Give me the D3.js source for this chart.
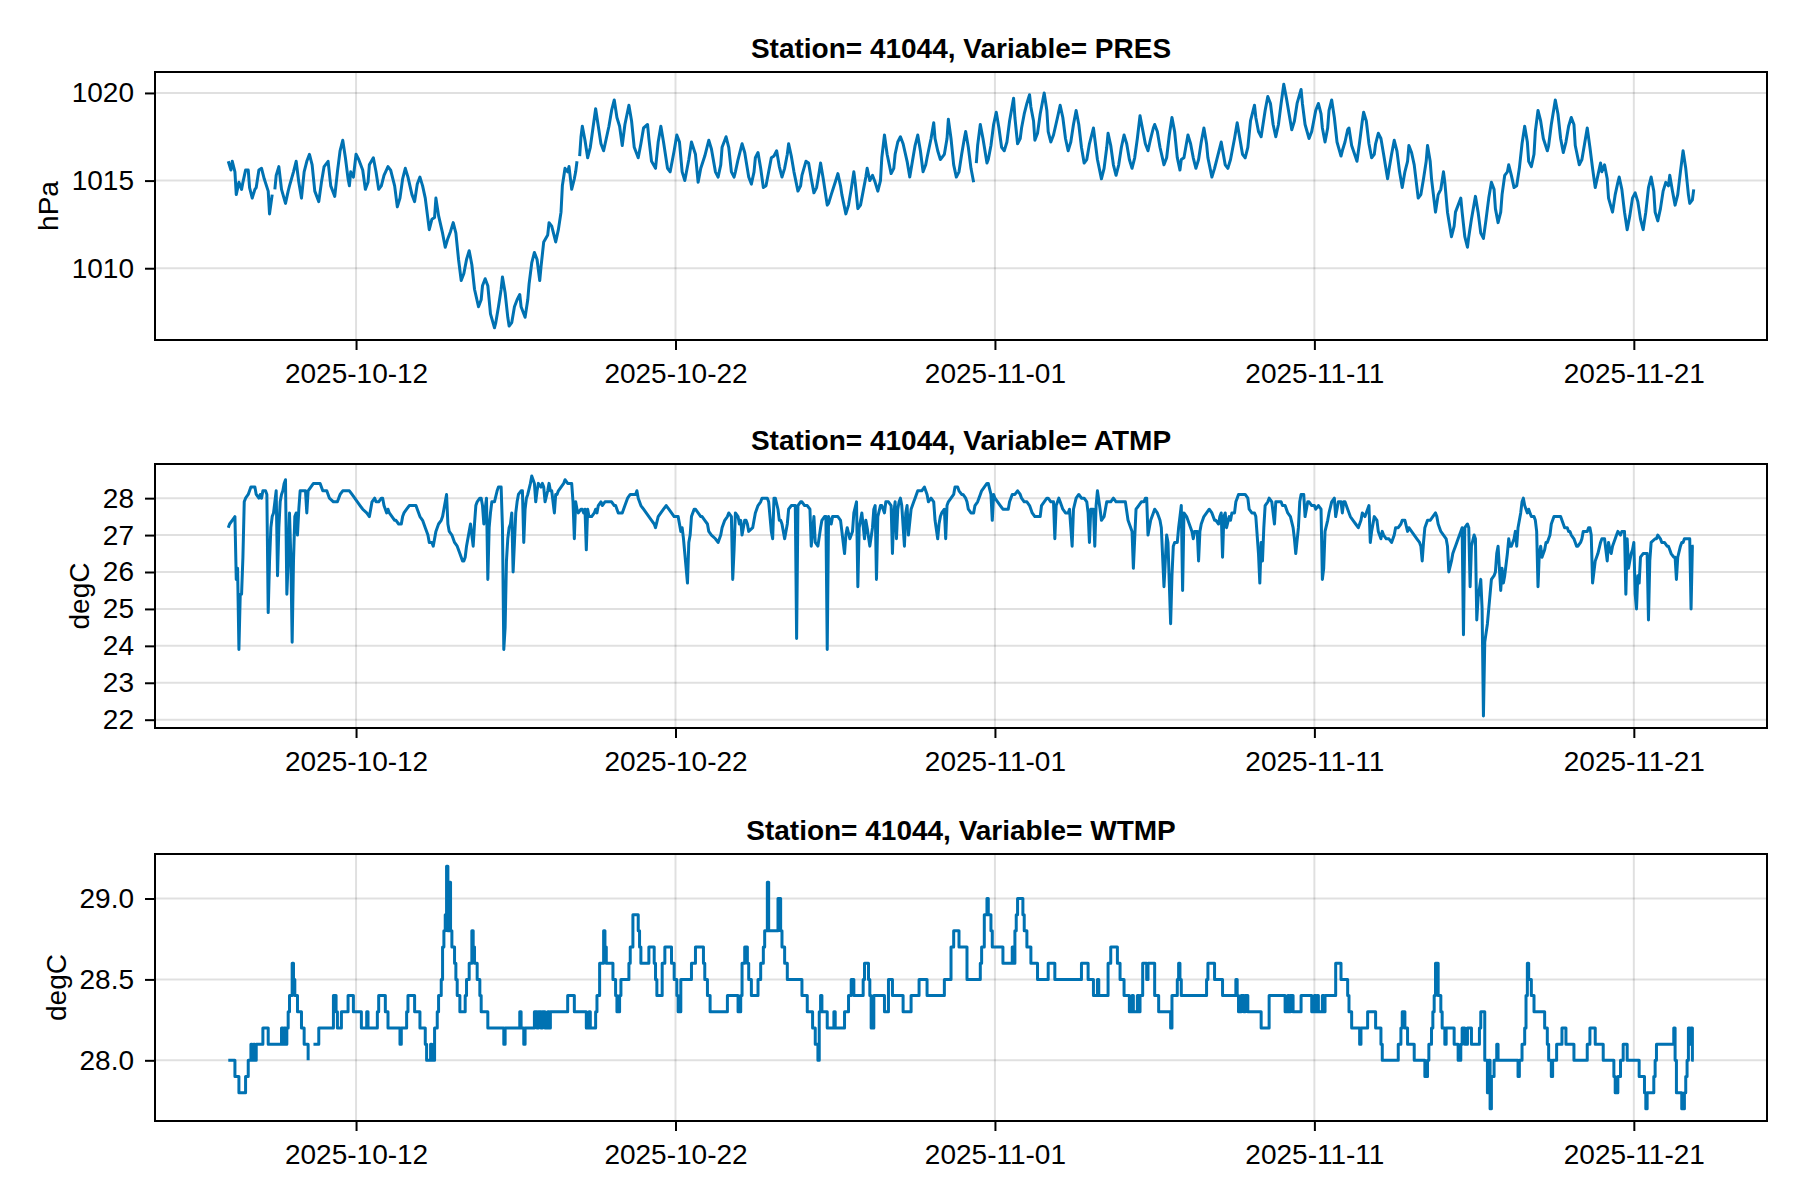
<!DOCTYPE html>
<html><head><meta charset="utf-8">
<script src="https://cdn.jsdelivr.net/npm/d3@7"></script>
<style>
body{margin:0;background:#fff}
svg{display:block}
</style>
</head><body>
<svg id="chart" width="1800" height="1200"></svg>
<script>
// ---------------- DATA ----------------
const station = "41044";
const seriesStartUTC = "2025-10-08T00:00:00Z";   // hour 0 of every series
const xTickLabels = ["2025-10-12","2025-10-22","2025-11-01","2025-11-11","2025-11-21"];
const presTicks = [1010, 1015, 1020];
const atmpTicks = [22, 23, 24, 25, 26, 27, 28];
const wtmpTicks = [28.0, 28.5, 29.0];

// [hour since start, value]; null = missing
const presSeries = [[0,1016.1],[2,1015.6],[3,1016.1],[5,1015.5],[6,1014.2],[8,1014.9],[10,1014.5],[11,1014.9],[13,1015.6],[15,1015.6],[16,1014.6],[18,1014.0],[20,1014.5],[21,1014.6],[23,1015.6],[25,1015.7],[27,1015.1],[30,1014.4],[31,1013.1],[33,1014.2],[34,null],[35,1014.5],[36,1015.3],[38,1015.8],[40,1014.5],[43,1013.7],[45,1014.4],[46,1014.7],[49,1015.5],[51,1016.1],[53,1014.9],[55,1014.0],[57,1015.5],[59,1016.1],[61,1016.5],[63,1015.9],[65,1014.4],[68,1013.8],[70,1014.9],[72,1015.8],[75,1016.1],[77,1014.7],[80,1014.1],[82,1015.5],[84,1016.7],[86,1017.3],[88,1016.3],[90,1015.1],[91,1014.7],[92,1015.5],[94,1015.2],[96,1016.5],[98,1016.2],[101,1015.6],[103,1014.5],[105,1014.9],[106,1015.9],[109,1016.3],[111,1015.5],[113,1014.5],[115,1014.7],[117,1015.3],[120,1015.8],[122,1015.6],[125,1014.7],[127,1013.5],[129,1014.0],[131,1015.1],[133,1015.7],[135,1015.2],[138,1014.2],[140,1013.8],[142,1014.8],[144,1015.2],[146,1014.7],[148,1014.0],[151,1012.2],[153,1012.8],[155,1012.9],[156,1014.0],[158,1013.0],[161,1012.0],[163,1011.2],[165,1011.7],[167,1012.1],[169,1012.6],[171,1012.0],[173,1010.5],[175,1009.3],[177,1009.7],[179,1010.5],[181,1011.0],[183,1010.2],[185,1008.8],[188,1007.8],[190,1008.2],[191,1009.0],[193,1009.4],[195,1009.0],[197,1007.4],[200,1006.6],[201,1006.9],[203,1007.8],[205,1008.8],[206,1009.5],[208,1008.6],[210,1007.2],[211,1006.7],[213,1006.9],[215,1007.8],[217,1008.2],[219,1008.5],[220,1007.8],[223,1007.2],[225,1008.2],[226,1009.1],[228,1010.3],[230,1010.9],[232,1010.5],[234,1009.3],[235,1010.1],[237,1011.5],[240,1011.9],[241,1012.6],[243,1012.4],[246,1011.5],[248,1012.2],[250,1013.2],[251,1014.7],[253,1015.7],[255,1015.5],[256,1015.8],[258,1014.5],[260,1015.1],[261,1015.5],[262,1016.1],[263,null],[264,1016.4],[265,1017.5],[266,1018.1],[268,1017.3],[270,1016.3],[272,1016.9],[274,1018.0],[276,1019.1],[278,1018.1],[280,1017.1],[282,1016.7],[284,1017.4],[286,1018.1],[288,1019.0],[290,1019.6],[292,1018.6],[294,1018.1],[296,1017.0],[298,1018.2],[301,1019.3],[303,1018.4],[305,1016.9],[308,1016.3],[310,1017.1],[312,1018.0],[315,1018.2],[316,1017.4],[318,1016.1],[321,1015.7],[323,1017.2],[325,1018.1],[327,1017.2],[330,1015.7],[332,1015.5],[335,1016.7],[337,1017.6],[339,1017.2],[341,1015.5],[343,1015.0],[346,1016.2],[348,1017.2],[351,1016.5],[353,1014.9],[355,1015.7],[358,1016.4],[361,1017.3],[363,1016.8],[366,1015.5],[368,1015.2],
[370,1015.9],[371,1016.9],[374,1017.5],[376,1016.9],[378,1015.5],[380,1015.2],[381,1015.5],[383,1016.2],[386,1017.1],[388,1016.6],[391,1015.2],[393,1014.8],[395,1015.5],[396,1016.3],[398,1016.6],[400,1015.7],[402,1014.6],[404,1014.7],[406,1015.5],[408,1016.3],[410,1016.4],[412,1016.7],[414,1015.8],[416,1015.2],[418,1015.7],[420,1016.5],[421,1017.1],[423,1016.4],[425,1015.5],[428,1014.4],[430,1014.7],[431,1015.3],[434,1016.1],[436,1016.0],[438,1015.1],[440,1014.3],[442,1014.6],[444,1015.5],[445,1016.0],[447,1015.1],[450,1013.6],[451,1013.7],[453,1014.2],[456,1014.9],[458,1015.4],[460,1014.7],[461,1014.2],[464,1013.1],[466,1013.6],[468,1014.5],[470,1015.5],[471,1014.9],[473,1013.4],[475,1013.6],[477,1014.4],[479,1015.2],[480,1015.7],[482,1015.0],[484,1015.3],[486,1014.9],[488,1014.4],[490,1015.0],[491,1016.3],[493,1017.6],[495,1016.5],[498,1015.4],[500,1015.7],[501,1016.5],[503,1017.2],[505,1017.5],[507,1017.1],[510,1016.1],[512,1015.2],[514,1016.1],[516,1017.0],[518,1017.6],[520,1016.7],[522,1015.5],[524,1015.9],[525,1016.3],[528,1017.4],[530,1018.3],[531,1017.4],[533,1016.7],[535,1016.2],[538,1016.5],[540,1017.4],[541,1018.5],[543,1017.4],[545,1015.9],[547,1015.2],[549,1015.5],[551,1016.5],[553,1017.4],[554,1017.8],[556,1016.9],[558,1015.7],[560,1014.9],[561,null],[562,1016.0],[563,1017.0],[565,1018.2],[567,1017.4],[570,1016.0],[571,1016.2],[573,1017.0],[575,1018.2],[577,1018.9],[579,1018.0],[581,1016.9],[583,1016.7],[585,1017.2],[587,1018.4],[590,1019.7],[591,1018.6],[593,1017.1],[595,1017.4],[596,1018.0],[598,1018.8],[600,1019.4],[602,1019.9],[603,1019.2],[605,1018.4],[606,1017.3],[608,1017.7],[610,1018.8],[613,1020.0],[615,1019.0],[616,1017.8],[618,1017.2],[620,1017.6],[623,1018.6],[625,1019.3],[627,1018.6],[629,1017.4],[631,1016.7],[633,1017.2],[635,1018.2],[637,1019.0],[639,1018.2],[641,1016.9],[643,1016.0],[645,1016.2],[647,1017.1],[650,1018.0],[651,1017.4],[653,1016.2],[656,1015.1],[658,1015.7],[660,1016.9],[661,1017.7],[663,1017.0],[665,1015.9],[667,1015.3],[669,1015.9],[671,1016.9],[673,1017.6],[675,1017.1],[677,1016.2],[679,1015.7],[681,1016.3],[683,1017.4],[685,1018.7],[687,1017.9],[689,1017.1],[691,1016.7],[693,1017.4],[695,1018.0],[696,1018.2],[698,1017.8],[700,1016.9],[703,1015.9],[705,1016.3],[707,1017.6],[709,1018.6],[711,1017.8],[713,1016.3],[715,1015.6],[716,1016.2],[718,1016.3],[721,1017.6],[723,1017.1],[725,1016.3],[727,1015.7],[729,1016.2],[731,1017.2],[733,1018.0],[735,1017.1],[736,1016.3],[739,1015.2],
[741,1015.7],[746,1017.2],[749,1015.9],[751,1015.7],[753,1016.2],[756,1017.4],[758,1018.3],[760,1017.4],[762,1016.5],[764,1016.3],[766,1016.9],[768,1018.4],[770,1019.0],[771,1019.3],[772,1018.6],[774,1017.8],[776,1017.5],[777,1018.0],[779,1019.0],[781,1019.8],[783,1019.4],[785,1018.2],[787,1017.5],[789,1018.2],[791,1019.4],[793,1020.5],[795,1019.7],[797,1018.8],[799,1017.9],[801,1018.4],[803,1019.4],[806,1020.2],[807,1019.4],[809,1018.2],[812,1017.4],[814,1017.8],[816,1018.6],[817,1019.0],[819,1019.4],[821,1018.8],[822,1018.0],[824,1017.2],[826,1018.0],[827,1019.0],[829,1019.6],[831,1018.6],[833,1017.2],[836,1016.4],[837,1016.7],[839,1017.2],[841,1017.9],[842,1018.0],[844,1017.0],[848,1016.1],[850,1017.2],[852,1018.4],[853,1018.9],[855,1018.4],[857,1017.1],[859,1016.3],[861,1016.5],[862,1017.1],[864,1017.7],[866,1017.4],[868,1016.5],[871,1015.1],[872,1015.6],[874,1016.5],[876,1017.3],[878,1016.7],[880,1015.5],[882,1014.6],[884,1015.5],[886,1016.1],[887,1017.0],[889,1016.6],[891,1015.9],[894,1014.0],[896,1014.2],[898,1015.1],[900,1016.1],[901,1017.0],[903,1016.1],[904,1015.1],[907,1013.2],[909,1014.2],[911,1014.5],[913,1015.5],[914,1014.9],[916,1013.2],[919,1011.8],[921,1012.4],[922,1013.2],[924,1013.6],[926,1014.0],[927,1013.2],[929,1011.8],[931,1011.2],[932,1011.8],[934,1012.8],[937,1014.1],[939,1013.2],[941,1012.0],[943,1011.7],[945,1012.8],[947,1014.0],[949,1014.9],[951,1014.5],[952,1013.4],[954,1012.6],[956,1013.2],[957,1014.2],[959,1015.3],[961,1015.5],[962,1015.9],[964,1015.3],[966,1014.6],[968,1014.7],[970,1015.7],[972,1017.1],[974,1018.1],[976,1017.2],[977,1016.1],[979,1015.8],[981,1016.5],[982,1017.8],[984,1019.0],[986,1018.4],[988,1017.4],[991,1016.7],[992,1017.0],[994,1018.2],[997,1019.6],[999,1018.8],[1001,1017.4],[1003,1016.6],[1005,1017.2],[1007,1018.1],[1009,1018.6],[1011,1018.2],[1012,1017.0],[1015,1015.9],[1017,1016.2],[1019,1017.1],[1021,1018.0],[1023,1016.9],[1025,1015.7],[1027,1014.6],[1029,1015.3],[1031,1016.0],[1032,1015.5],[1034,1015.9],[1036,1015.1],[1037,1014.0],[1040,1013.2],[1042,1014.2],[1044,1014.9],[1045,1015.2],[1047,1014.5],[1049,1013.2],[1051,1012.2],[1053,1013.0],[1055,1014.0],[1057,1014.3],[1059,1013.8],[1061,1012.8],[1063,1012.2],[1065,1013.2],[1067,1014.6],[1069,1015.2],[1071,1014.4],[1072,1013.2],[1074,1012.7],[1076,1013.4],[1078,1014.4],[1080,1014.9],[1082,1014.7],[1083,1015.3],[1085,1014.4],[1087,1013.6],[1089,1014.2],[1091,1015.5],[1093,1016.7],[1095,1015.7],[1097,1014.2],[1098,1013.7],[1100,1013.9],[1101,1014.5]];

const atmpSeries = [[0,27.2],[1,27.3],[3,27.4],[5,27.5],[6,25.8],[7,26.1],[8,23.9],[9,25.4],[10,25.4],[11,26.4],[12,27.9],[13,28.0],[15,28.1],[16,28.2],[17,28.3],[20,28.3],[21,28.1],[23,28.0],[24,28.1],[25,28.0],[26,28.2],[28,28.2],[29,28.1],[30,24.9],[31,26.3],[32,27.2],[33,27.5],[34,27.6],[35,27.9],[36,28.2],[37,25.9],[38,27.2],[39,27.9],[40,28.1],[41,28.2],[42,28.4],[43,28.5],[44,25.4],[45,26.3],[46,27.6],[47,26.4],[48,24.1],[49,26.3],[50,27.5],[51,27.6],[52,27.0],[53,27.7],[54,28.2],[55,28.2],[57,28.2],[58,28.2],[59,27.6],[60,28.2],[62,28.3],[64,28.4],[66,28.4],[69,28.4],[71,28.2],[74,28.2],[76,28.0],[79,27.9],[81,27.9],[82,27.9],[84,28.1],[86,28.2],[89,28.2],[91,28.2],[93,28.1],[95,28.0],[97,27.9],[99,27.8],[101,27.7],[104,27.6],[106,27.5],[107,27.7],[108,27.9],[110,28.0],[111,27.9],[113,27.9],[115,28.0],[116,28.0],[117,27.8],[119,27.6],[120,27.7],[121,27.6],[123,27.5],[125,27.4],[126,27.4],[128,27.3],[130,27.3],[131,27.5],[132,27.6],[134,27.7],[136,27.8],[139,27.8],[141,27.8],[142,27.7],[144,27.5],[146,27.4],[148,27.2],[150,27.0],[151,26.8],[153,26.8],[154,26.7],[156,27.1],[158,27.3],[160,27.4],[161,27.5],[162,27.7],[164,28.1],[165,27.3],[166,27.1],[168,27.0],[170,26.8],[172,26.7],[174,26.5],[176,26.3],[177,26.3],[178,26.4],[179,26.7],[181,27.1],[182,27.3],[184,26.7],[185,27.3],[186,27.8],[187,27.9],[189,28.0],[190,28.0],[191,27.8],[192,27.3],[193,27.7],[194,28.0],[195,25.8],[196,27.2],[197,27.6],[198,27.9],[200,27.9],[202,28.2],[203,28.3],[205,28.3],[206,27.2],[207,23.9],[208,24.5],[209,26.3],[210,26.9],[211,27.2],[212,27.3],[213,27.6],[214,26.0],[215,26.8],[216,27.6],[217,27.9],[218,28.1],[220,28.2],[221,28.2],[222,26.8],[223,27.7],[224,28.0],[225,28.1],[227,28.4],[228,28.6],[230,28.4],[231,27.9],[232,28.2],[233,28.4],[235,28.3],[236,28.4],[237,28.3],[238,27.9],[240,28.2],[241,28.4],[242,28.2],[243,28.2],[245,27.6],[246,28.1],[247,28.1],[248,28.2],[250,28.3],[252,28.4],[253,28.5],[255,28.4],[256,28.4],[258,28.4],[259,27.9],[260,26.9],[261,27.9],[262,27.7],[263,27.6],[265,27.7],[266,27.7],[267,27.6],[268,27.7],[269,26.6],[270,27.7],[271,27.5],[273,27.5],[275,27.6],[276,27.7],[277,27.6],[278,27.8],[280,27.9],[281,27.8],[283,27.9],[285,27.9],[286,27.9],[288,27.9],[290,27.8],[291,27.8],[293,27.6],[296,27.6],[298,27.8],[300,28.0],[302,28.1],[304,28.1],[306,28.1],[307,28.2],[308,28.0],[310,27.8],[312,27.7],[314,27.6],[316,27.5],[318,27.4],[320,27.3],[321,27.2],[323,27.5],[325,27.6],[327,27.7],[329,27.8],[331,27.7],[333,27.6],[335,27.5],[336,27.5],[338,27.5],[340,27.1],[341,27.2],[342,26.9],[343,26.5],[345,25.7],[346,26.8],[347,27.0],[348,27.5],[350,27.7],[351,27.7],[353,27.6],[355,27.5],[356,27.5],[358,27.4],[360,27.3],[361,27.1],[363,27.0],[366,26.9],[368,26.8],
[370,27.0],[371,27.2],[373,27.4],[375,27.5],[376,27.6],[378,27.5],[379,25.8],[380,26.6],[381,27.6],[383,27.5],[384,27.3],[385,27.4],[386,27.0],[388,27.4],[389,27.4],[390,27.3],[391,27.1],[394,27.2],[395,27.4],[396,27.6],[398,27.8],[400,27.9],[401,28.0],[403,28.0],[405,28.0],[406,27.9],[408,27.1],[409,26.9],[410,28.0],[411,28.0],[413,27.7],[414,27.4],[415,27.4],[416,27.3],[418,26.9],[420,27.3],[421,27.7],[423,27.8],[425,27.8],[426,27.8],[427,24.2],[428,27.8],[430,27.9],[431,27.9],[433,27.8],[435,27.8],[437,27.7],[438,26.7],[440,27.5],[441,26.8],[443,26.7],[445,27.2],[446,27.4],[448,27.5],[449,27.5],[450,23.9],[451,27.5],[453,27.3],[454,27.5],[456,27.5],[458,27.5],[460,27.4],[461,27.1],[463,26.5],[464,27.0],[465,27.2],[467,26.9],[469,27.1],[470,27.6],[472,27.9],[473,25.6],[474,27.2],[475,27.4],[476,27.6],[478,26.9],[479,27.4],[480,27.2],[482,26.7],[484,27.2],[485,27.7],[486,27.8],[487,25.8],[488,27.5],[490,27.8],[491,27.8],[493,27.6],[494,27.9],[496,27.9],[498,27.8],[499,26.5],[500,27.6],[501,27.9],[502,26.9],[503,27.7],[504,27.9],[505,28.0],[506,27.8],[508,26.7],[509,27.6],[510,27.8],[511,27.0],[513,27.7],[514,27.8],[515,27.9],[516,28.0],[518,28.2],[520,28.2],[521,28.2],[523,28.3],[525,28.1],[526,27.9],[528,28.0],[530,27.9],[531,27.4],[533,26.9],[534,27.3],[535,27.5],[536,27.6],[538,27.7],[539,26.9],[540,27.8],[541,27.9],[543,28.0],[545,28.1],[546,28.3],[548,28.3],[549,28.2],[551,28.1],[552,28.1],[554,28.0],[555,27.9],[556,27.7],[558,27.6],[560,27.6],[561,27.8],[563,27.9],[565,28.1],[566,28.2],[568,28.3],[570,28.4],[571,28.4],[573,28.1],[574,27.4],[575,28.1],[576,28.0],[578,27.9],[580,27.8],[582,27.7],[584,27.7],[586,27.7],[587,27.9],[589,28.1],[591,28.1],[593,28.2],[595,28.1],[596,28.0],[598,27.9],[600,27.9],[602,27.8],[604,27.6],[606,27.5],[608,27.5],[610,27.5],[611,27.8],[613,27.9],[615,28.0],[616,28.0],[618,27.9],[620,27.9],[621,26.9],[622,27.8],[624,28.0],[625,27.9],[627,27.7],[629,27.6],[631,27.6],[632,27.7],[634,26.7],[635,27.7],[637,28.0],[639,28.1],[641,28.0],[643,28.0],[645,27.9],[646,27.6],[647,26.8],[648,27.7],[650,27.7],[651,26.7],[652,27.8],[653,28.2],[655,27.7],[656,27.4],[658,27.5],[660,27.9],[661,27.9],[663,27.9],[665,28.0],[667,27.9],[669,27.9],[671,27.9],[674,27.9],[676,27.4],[677,27.3],[679,27.1],[680,26.1],[681,26.9],[682,27.7],[684,27.8],[686,27.9],[688,27.9],[689,28.0],[690,28.0],[691,27.0],[693,27.4],[695,27.6],[696,27.7],[698,27.6],[699,27.5],[700,27.4],[701,27.2],[703,25.6],[704,26.3],[705,27.0],[706,26.8],[708,24.6],[709,25.9],[710,26.7],[711,26.8],[713,26.8],[714,27.2],[715,27.5],[716,27.8],[717,25.5],[718,27.6],[720,27.5],[721,27.4],[723,27.2],[724,27.1],[725,26.9],[726,27.1],[728,27.1],[729,26.3],[730,27.1],[731,27.3],[733,27.5],[735,27.6],[737,27.7],[739,27.6],[741,27.4],
[742,27.4],[744,27.3],[745,27.5],[746,27.6],[747,26.4],[748,27.5],[749,27.6],[750,27.2],[752,27.5],[753,27.4],[754,27.6],[756,27.6],[757,27.9],[758,28.0],[759,28.1],[762,28.1],[764,28.1],[766,28.0],[767,27.7],[769,27.6],[771,27.6],[772,27.5],[773,27.0],[774,26.5],[775,25.7],[776,26.8],[777,26.3],[778,27.2],[779,27.8],[781,27.9],[782,28.0],[784,27.9],[786,27.3],[787,27.9],[789,27.9],[791,27.9],[792,27.8],[794,27.8],[796,27.6],[798,27.5],[800,27.2],[801,26.9],[802,26.5],[804,27.2],[805,27.9],[806,28.1],[808,28.1],[809,27.5],[811,27.9],[812,27.9],[814,27.8],[816,27.8],[817,27.7],[819,27.8],[821,27.7],[822,25.8],[823,26.1],[824,27.1],[826,27.4],[827,27.6],[829,27.9],[831,28.0],[832,27.5],[834,27.9],[836,27.9],[837,27.6],[838,27.9],[839,27.9],[841,27.7],[843,27.5],[845,27.4],[847,27.3],[849,27.2],[851,27.4],[852,27.6],[854,27.5],[856,27.7],[857,27.8],[858,26.8],[859,27.1],[861,27.5],[863,27.4],[864,27.1],[866,26.9],[867,27.1],[868,27.0],[870,26.9],[872,26.9],[874,26.8],[876,27.0],[877,27.2],[879,27.2],[881,27.3],[882,27.4],[884,27.4],[886,27.1],[887,27.2],[889,27.1],[891,27.0],[893,26.9],[895,26.8],[896,26.7],[897,26.3],[898,26.8],[899,27.2],[901,27.4],[903,27.4],[905,27.5],[907,27.6],[908,27.5],[909,27.3],[911,27.1],[913,27.0],[915,26.9],[916,26.7],[917,26.0],[919,26.3],[920,26.5],[921,26.6],[922,26.7],[924,26.9],[926,27.1],[927,27.2],[928,24.3],[929,27.2],[931,27.3],[932,27.2],[933,25.6],[934,26.7],[936,27.0],[937,26.9],[938,24.7],[939,25.3],[941,25.8],[942,25.0],[943,22.1],[944,24.1],[946,24.6],[947,25.0],[948,25.4],[949,25.8],[951,25.9],[952,26.0],[953,26.5],[954,26.7],[956,25.5],[957,26.1],[958,25.7],[959,25.9],[961,26.5],[962,26.9],[963,26.7],[964,26.7],[966,26.9],[967,27.1],[968,26.7],[969,27.2],[971,27.6],[972,27.9],[973,28.0],[974,27.8],[976,27.6],[977,27.7],[978,27.6],[979,27.5],[981,27.5],[982,27.4],[983,27.1],[984,25.6],[985,26.5],[986,26.7],[987,26.4],[989,26.6],[990,26.8],[991,26.8],[993,27.0],[994,27.3],[996,27.5],[997,27.5],[999,27.5],[1001,27.5],[1002,27.4],[1003,27.3],[1004,27.2],[1006,27.2],[1007,27.1],[1008,27.1],[1009,27.0],[1011,26.9],[1012,26.8],[1013,26.7],[1014,26.7],[1016,26.8],[1017,26.9],[1018,27.1],[1019,27.1],[1021,27.1],[1022,27.2],[1023,27.2],[1024,27.0],[1025,25.7],[1026,26.0],[1027,26.3],[1028,26.4],[1029,26.5],[1031,26.8],[1032,26.9],[1033,26.9],[1034,26.9],[1036,26.3],[1037,26.8],[1038,26.6],[1039,26.5],[1040,26.7],[1041,26.8],[1042,26.9],[1043,27.0],[1044,27.1],[1046,27.0],[1047,27.1],[1048,27.1],[1049,27.1],[1050,25.4],[1051,26.9],[1052,26.1],[1054,26.5],[1055,26.6],[1056,26.8],[1057,25.4],[1058,25.0],[1059,25.9],[1060,25.7],[1061,26.4],[1063,26.5],[1064,26.5],[1066,26.5],[1067,24.7],[1068,26.3],[1069,26.8],[1072,26.9],[1073,26.9],[1074,27.0],[1076,26.9],[1077,26.8],[1078,26.8],[1079,26.8],[1081,26.7],[1082,26.7],[1083,26.6],[1084,26.5],[1086,26.4],[1087,26.4],[1088,25.8],[1089,26.4],[1091,26.7],[1092,26.8],[1093,26.8],[1094,26.9],[1096,26.9],[1097,26.9],[1098,26.9],[1099,25.0],[1100,26.7],[1101,26.7]];

// water temperature: value holds from each hour until the next entry
const wtmpSeries = [[0,28.0],[5,27.9],[8,27.8],[13,27.9],[15,28.0],[17,28.1],[18,28.0],[19,28.1],[20,28.0],[21,28.1],[26,28.2],[30,28.1],[40,28.2],[41,28.1],[42,28.2],[43,28.1],[44,28.2],[45,28.3],[46,28.4],[48,28.6],[49,28.5],[50,28.4],[52,28.3],[55,28.2],[57,28.1],[60,28.0],[62,null],[64,28.1],[68,28.2],[79,28.4],[81,28.3],[82,28.2],[85,28.3],[90,28.4],[94,28.3],[100,28.2],[104,28.3],[105,28.2],[112,28.3],[113,28.4],[118,28.3],[120,28.2],[129,28.1],[130,28.2],[134,28.3],[135,28.4],[140,28.3],[144,28.2],[148,28.1],[149,28.0],[152,28.1],[153,28.0],[155,28.2],[157,28.3],[158,28.4],[160,28.5],[161,28.7],[162,28.8],[163,28.9],[164,29.2],[165,28.8],[166,29.1],[167,28.8],[168,28.7],[170,28.6],[171,28.5],[172,28.4],[174,28.3],[178,28.4],[179,28.5],[181,28.6],[183,28.8],[184,28.7],[185,28.6],[187,28.5],[189,28.4],[190,28.3],[195,28.2],[207,28.1],[208,28.2],[219,28.3],[220,28.2],[222,28.1],[223,28.2],[230,28.3],[232,28.2],[233,28.3],[235,28.2],[236,28.3],[238,28.2],[240,28.3],[241,28.2],[242,28.3],[255,28.4],[260,28.3],[269,28.2],[271,28.3],[272,28.2],[276,28.3],[277,28.4],[279,28.6],[282,28.8],[283,28.7],[284,28.6],[289,28.5],[291,28.4],[292,28.3],[294,28.4],[295,28.5],[301,28.6],[302,28.7],[304,28.9],[308,28.8],[309,28.7],[310,28.6],[316,28.7],[320,28.6],[321,28.5],[322,28.4],[326,28.6],[328,28.7],[333,28.6],[335,28.5],[337,28.4],[338,28.3],[340,28.5],[348,28.6],[351,28.7],[357,28.6],[358,28.5],[360,28.4],[362,28.3],
[375,28.4],[383,28.3],[385,28.4],[386,28.6],[388,28.7],[390,28.6],[391,28.5],[393,28.4],[398,28.5],[400,28.6],[402,28.7],[403,28.8],[405,29.1],[406,28.8],[413,29.0],[415,28.8],[416,28.7],[418,28.6],[420,28.5],[431,28.4],[435,28.3],[439,28.2],[441,28.1],[443,28.0],[444,28.3],[445,28.4],[446,28.3],[450,28.2],[455,28.3],[456,28.2],[463,28.3],[466,28.4],[468,28.5],[470,28.4],[477,28.5],[478,28.6],[481,28.5],[482,28.4],[483,28.2],[485,28.4],[493,28.3],[496,28.5],[499,28.4],[507,28.3],[513,28.4],[519,28.5],[525,28.4],[538,28.5],[543,28.7],[545,28.8],[549,28.7],[555,28.5],[565,28.6],[566,28.7],[568,28.9],[570,29.0],[571,28.9],[573,28.8],[574,28.7],[582,28.6],[589,28.7],[590,28.6],[591,28.8],[592,28.9],[593,29.0],[597,28.9],[598,28.8],[600,28.7],[603,28.6],[608,28.5],[616,28.6],[621,28.5],[641,28.6],[646,28.5],[650,28.4],[653,28.5],[654,28.4],[661,28.6],[663,28.7],[668,28.6],[670,28.5],[673,28.4],[677,28.3],[679,28.4],[680,28.3],[683,28.4],[684,28.3],[685,28.4],[687,28.6],[690,28.5],[691,28.6],[696,28.4],[699,28.3],[708,28.2],[709,28.4],[713,28.5],[714,28.6],[715,28.5],[716,28.4],[735,28.5],[736,28.6],
[741,28.5],[747,28.4],[757,28.5],[758,28.4],[759,28.3],[761,28.4],[763,28.3],[764,28.4],[766,28.3],[776,28.2],[782,28.4],[794,28.3],[796,28.4],[797,28.3],[798,28.4],[800,28.3],[806,28.4],[814,28.3],[816,28.4],[817,28.3],[818,28.4],[819,28.3],[822,28.4],[823,28.3],[824,28.4],[832,28.6],[836,28.5],[841,28.4],[842,28.3],[844,28.2],[850,28.1],[851,28.2],[856,28.3],[862,28.2],[866,28.1],[867,28.0],[879,28.1],[881,28.2],[882,28.3],[884,28.2],[886,28.1],[891,28.0],[899,27.9],[901,28.0],[902,28.1],[904,28.2],[905,28.3],[906,28.4],[907,28.6],[909,28.4],[911,28.3],[912,28.2],[914,28.1],[915,28.2],[921,28.1],[924,28.0],[926,28.1],[927,28.2],[929,28.1],[931,28.2],[934,28.1],[940,28.2],[941,28.3],[944,28.0],[946,27.8],[947,28.0],[948,27.7],[949,27.9],[951,28.0],[953,28.1],[954,28.0],[969,27.9],[970,28.0],[972,28.1],[974,28.2],[975,28.4],[976,28.6],[977,28.5],[979,28.4],[981,28.3],[989,28.2],[991,28.1],[992,28.0],[994,27.9],[995,28.0],[998,28.1],[1002,28.2],[1005,28.1],[1011,28.0],[1021,28.1],[1023,28.2],[1027,28.1],[1033,28.0],[1041,27.9],[1042,27.8],[1044,27.9],[1046,28.0],[1048,28.1],[1051,28.0],[1060,27.9],[1064,27.8],[1065,27.7],[1066,27.8],[1071,27.9],[1072,28.0],[1073,28.1],[1086,28.2],[1087,28.0],[1088,27.8],[1092,27.7],[1094,27.8],[1095,27.9],[1096,28.0],[1097,28.2],[1098,28.1],[1099,28.2],[1100,28.0],[1101,28.0]];

// ---------------- DRAWING ----------------
const FONT = '"Liberation Sans", Arial, Helvetica, sans-serif';
const LINE_COLOR = "#0072b2";
const GRID_COLOR = "rgba(0,0,0,0.12)";
const HOUR = 3600e3;
const t0 = Date.parse(seriesStartUTC);
const toDate = h => new Date(t0 + h * HOUR);

const panels = [
  {variable: "PRES", unit: "hPa",  data: presSeries, ticks: presTicks, fmt: d3.format("d"),   step: false, top: 72,  bottom: 340},
  {variable: "ATMP", unit: "degC", data: atmpSeries, ticks: atmpTicks, fmt: d3.format("d"),   step: false, top: 464, bottom: 728},
  {variable: "WTMP", unit: "degC", data: wtmpSeries, ticks: wtmpTicks, fmt: d3.format(".1f"), step: true,  top: 854, bottom: 1121}
];
const left = 155, right = 1767;

const svg = d3.select("#chart");
svg.append("rect").attr("width", 1800).attr("height", 1200).attr("fill", "#fff");

const allHours = [].concat(presSeries, atmpSeries, wtmpSeries).map(d => d[0]);
const hMin = d3.min(allHours), hMax = d3.max(allHours);
const hPad = (hMax - hMin) * 0.05;
const x = d3.scaleUtc()
  .domain([toDate(hMin - hPad), toDate(hMax + hPad)])
  .range([left, right]);
const xTicks = xTickLabels.map(s => new Date(s + "T00:00:00Z"));

panels.forEach((p, i) => {
  const vals = p.data.filter(d => d[1] != null).map(d => d[1]);
  const [vmin, vmax] = d3.extent(vals);
  const vpad = (vmax - vmin) * 0.05;
  const y = d3.scaleLinear().domain([vmin - vpad, vmax + vpad]).range([p.bottom, p.top]);

  const g = svg.append("g");
  const clipId = "clip" + i;
  svg.append("clipPath").attr("id", clipId).append("rect")
    .attr("x", left).attr("y", p.top).attr("width", right - left).attr("height", p.bottom - p.top);

  // grid
  g.selectAll(".gx").data(xTicks).join("line")
    .attr("x1", d => x(d)).attr("x2", d => x(d))
    .attr("y1", p.top).attr("y2", p.bottom)
    .attr("stroke", GRID_COLOR).attr("stroke-width", 2);
  g.selectAll(".gy").data(p.ticks).join("line")
    .attr("x1", left).attr("x2", right)
    .attr("y1", d => y(d)).attr("y2", d => y(d))
    .attr("stroke", GRID_COLOR).attr("stroke-width", 2);

  // series
  const line = d3.line()
    .defined(d => d[1] != null)
    .x(d => x(toDate(d[0])))
    .y(d => y(d[1]))
    .curve(p.step ? d3.curveStepAfter : d3.curveLinear);
  g.append("path").datum(p.data)
    .attr("clip-path", `url(#${clipId})`)
    .attr("d", line)
    .attr("fill", "none")
    .attr("stroke", LINE_COLOR)
    .attr("stroke-width", 3)
    .attr("stroke-linejoin", "round")
    .attr("stroke-linecap", "butt");

  // frame
  g.append("rect")
    .attr("x", left).attr("y", p.top)
    .attr("width", right - left).attr("height", p.bottom - p.top)
    .attr("fill", "none").attr("stroke", "#000").attr("stroke-width", 2);

  // x axis
  const ax = g.append("g").attr("transform", `translate(0,${p.bottom})`)
    .call(d3.axisBottom(x).tickValues(xTicks).tickFormat(d3.utcFormat("%Y-%m-%d"))
      .tickSize(10).tickPadding(13));
  ax.select(".domain").remove();
  ax.attr("font-size", 28).attr("font-family", FONT);
  ax.selectAll("line").attr("stroke", "#000").attr("stroke-width", 2);
  ax.selectAll("text").attr("fill", "#000");

  // y axis
  const ay = g.append("g").attr("transform", `translate(${left},0)`)
    .call(d3.axisLeft(y).tickValues(p.ticks).tickFormat(p.fmt).tickSize(10).tickPadding(11));
  ay.select(".domain").remove();
  ay.attr("font-size", 28).attr("font-family", FONT);
  ay.selectAll("line").attr("stroke", "#000").attr("stroke-width", 2);
  ay.selectAll("text").attr("fill", "#000");

  let maxW = 0;
  ay.selectAll("text").each(function () { maxW = Math.max(maxW, this.getComputedTextLength()); });
  const labelX = left - 21 - maxW - 14;
  g.append("text")
    .attr("transform", `translate(${labelX},${(p.top + p.bottom) / 2}) rotate(-90)`)
    .attr("text-anchor", "middle")
    .attr("font-family", FONT).attr("font-size", 28).attr("fill", "#000")
    .text(p.unit);

  // title
  g.append("text")
    .attr("x", (left + right) / 2).attr("y", p.top - 14)
    .attr("text-anchor", "middle")
    .attr("font-family", FONT).attr("font-size", 28).attr("font-weight", "bold").attr("fill", "#000")
    .text(`Station= ${station}, Variable= ${p.variable}`);
});
</script>
</body></html>
